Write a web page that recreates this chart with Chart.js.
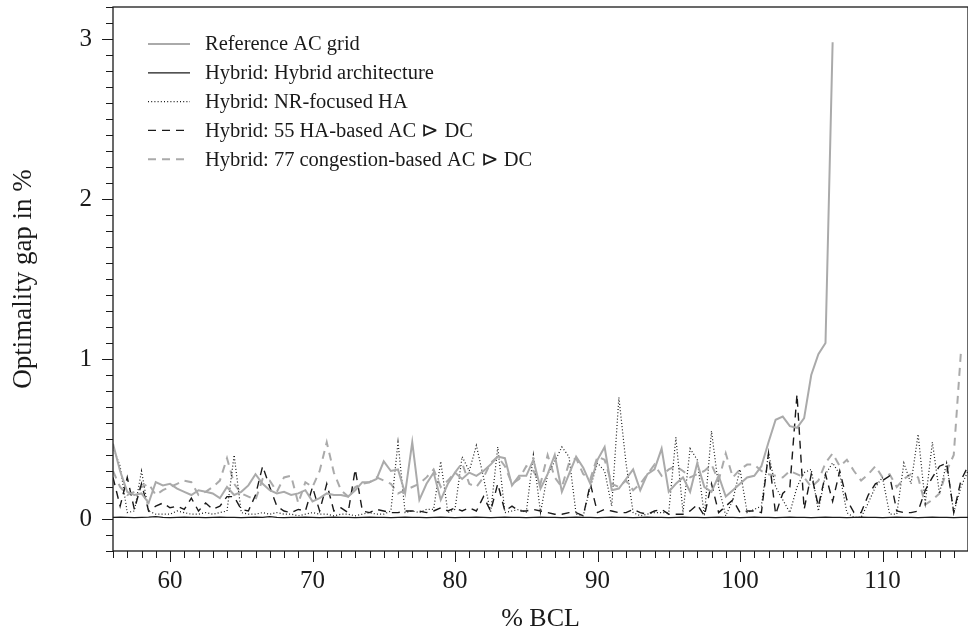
<!DOCTYPE html>
<html>
<head>
<meta charset="utf-8">
<script src="https://cdn.jsdelivr.net/npm/chart.js@4.4.1/dist/chart.umd.min.js"></script>
<style>
  body { margin: 0; background: #fff; }
  #wrap { width: 968px; height: 639px; position: relative; }
</style>
</head>
<body>
<div id="wrap"><canvas id="gap"></canvas></div>
<script>
// % BCL (x positions)
const bcl = [
  56,56.5,57,57.5,58,58.5,59,59.5,60,60.5,
  61,61.5,62,62.5,63,63.5,64,64.5,65,65.5,
  66,66.5,67,67.5,68,68.5,69,69.5,70,70.5,
  71,71.5,72,72.5,73,73.5,74,74.5,75,75.5,
  76,76.5,77,77.5,78,78.5,79,79.5,80,80.5,
  81,81.5,82,82.5,83,83.5,84,84.5,85,85.5,
  86,86.5,87,87.5,88,88.5,89,89.5,90,90.5,
  91,91.5,92,92.5,93,93.5,94,94.5,95,95.5,
  96,96.5,97,97.5,98,98.5,99,99.5,100,100.5,
  101,101.5,102,102.5,103,103.5,104,104.5,105,105.5,
  106,106.5,107,107.5,108,108.5,109,109.5,110,110.5,
  111,111.5,112,112.5,113,113.5,114,114.5,115,115.5,
  116
];

// labelled ticks
const xTicks = [60, 70, 80, 90, 100, 110];
const yTicks = [0, 1, 2, 3];

// optimality gap in %
const refAC = [
  0.47,0.30,0.17,0.15,0.16,0.10,0.23,0.21,0.22,0.19,
  0.17,0.15,0.18,0.17,0.16,0.13,0.20,0.15,0.17,0.21,
  0.28,0.22,0.18,0.16,0.17,0.15,0.16,0.18,0.11,0.13,
  0.16,0.15,0.15,0.14,0.18,0.23,0.23,0.25,0.36,0.30,
  0.31,0.16,0.48,0.12,0.22,0.29,0.12,0.22,0.29,0.25,
  0.29,0.27,0.30,0.34,0.39,0.38,0.21,0.27,0.27,0.37,
  0.19,0.28,0.40,0.17,0.28,0.39,0.32,0.22,0.37,0.45,
  0.18,0.19,0.25,0.31,0.18,0.28,0.31,0.44,0.17,0.22,
  0.26,0.17,0.35,0.20,0.17,0.27,0.14,0.18,0.22,0.26,
  0.27,0.33,0.48,0.62,0.64,0.58,0.57,0.63,0.90,1.03,
  1.10,2.98,null,null,null,null,null,null,null,null,
  null,null,null,null,null,null,null,null,null,null,
  null
];

const hybridArch = [
  0.010,0.012,0.010,0.008,0.010,0.012,0.015,0.010,0.008,0.010,
  0.012,0.010,0.010,0.008,0.010,0.012,0.010,0.010,0.008,0.010,
  0.012,0.010,0.015,0.010,0.008,0.010,0.010,0.012,0.010,0.008,
  0.010,0.012,0.010,0.010,0.008,0.010,0.012,0.010,0.010,0.008,
  0.010,0.012,0.010,0.010,0.008,0.010,0.012,0.010,0.008,0.010,
  0.010,0.012,0.010,0.008,0.010,0.012,0.010,0.010,0.008,0.010,
  0.012,0.010,0.010,0.008,0.010,0.012,0.010,0.010,0.008,0.010,
  0.012,0.010,0.010,0.008,0.010,0.012,0.010,0.010,0.008,0.010,
  0.012,0.010,0.010,0.008,0.010,0.012,0.010,0.010,0.008,0.010,
  0.012,0.010,0.010,0.008,0.010,0.012,0.010,0.010,0.008,0.010,
  0.012,0.010,0.010,0.008,0.010,0.012,0.010,0.010,0.008,0.010,
  0.012,0.010,0.010,0.008,0.010,0.012,0.010,0.010,0.008,0.010,
  0.010
];

const nrFocused = [
  0.45,0.33,0.04,0.05,0.30,0.05,0.03,0.03,0.03,0.05,
  0.04,0.03,0.03,0.04,0.03,0.04,0.05,0.40,0.04,0.03,
  0.03,0.04,0.03,0.04,0.03,0.03,0.02,0.03,0.04,0.03,
  0.03,0.02,0.03,0.03,0.02,0.03,0.04,0.03,0.03,0.05,
  0.48,0.04,0.05,0.04,0.06,0.06,0.36,0.04,0.06,0.39,
  0.30,0.46,0.26,0.04,0.45,0.04,0.05,0.06,0.04,0.40,
  0.04,0.28,0.36,0.45,0.39,0.03,0.02,0.20,0.35,0.30,
  0.08,0.76,0.35,0.04,0.02,0.03,0.04,0.04,0.04,0.51,
  0.04,0.44,0.37,0.02,0.55,0.20,0.02,0.12,0.31,0.04,
  0.06,0.08,0.41,0.20,0.12,0.04,0.20,0.29,0.31,0.05,
  0.28,0.35,0.28,0.04,0.01,0.01,0.10,0.20,0.26,0.03,
  0.03,0.35,0.22,0.53,0.10,0.48,0.16,0.35,0.04,0.20,
  0.30
];

const haBased55 = [
  0.26,0.08,0.26,0.06,0.22,0.05,0.08,0.10,0.07,0.08,
  0.06,0.13,0.05,0.10,0.06,0.08,0.14,0.14,0.06,0.05,
  0.15,0.33,0.20,0.08,0.05,0.04,0.06,0.05,0.20,0.05,
  0.22,0.05,0.07,0.04,0.31,0.05,0.04,0.06,0.05,0.04,
  0.04,0.05,0.05,0.05,0.04,0.05,0.07,0.05,0.07,0.05,
  0.07,0.05,0.14,0.05,0.22,0.05,0.08,0.05,0.05,0.06,
  0.05,0.04,0.03,0.03,0.04,0.04,0.02,0.22,0.04,0.06,
  0.05,0.04,0.04,0.06,0.04,0.03,0.05,0.06,0.03,0.03,
  0.03,0.05,0.09,0.02,0.22,0.04,0.08,0.12,0.04,0.05,
  0.05,0.04,0.41,0.03,0.16,0.20,0.78,0.06,0.28,0.08,
  0.28,0.11,0.30,0.12,0.04,0.04,0.15,0.22,0.24,0.27,
  0.05,0.04,0.04,0.05,0.18,0.26,0.33,0.35,0.04,0.24,
  0.33
];

const congestion77 = [
  0.30,0.20,0.15,0.17,0.20,0.22,0.15,0.18,0.20,0.22,
  0.24,0.23,0.15,0.17,0.20,0.24,0.38,0.22,0.16,0.14,
  0.12,0.25,0.24,0.17,0.26,0.27,0.10,0.23,0.20,0.30,
  0.48,0.29,0.18,0.14,0.20,0.22,0.23,0.26,0.24,0.22,
  0.16,0.18,0.20,0.22,0.26,0.31,0.20,0.24,0.29,0.35,
  0.22,0.20,0.26,0.35,0.39,0.33,0.22,0.25,0.33,0.30,
  0.22,0.40,0.26,0.20,0.35,0.38,0.28,0.25,0.39,0.37,
  0.22,0.20,0.24,0.18,0.22,0.28,0.34,0.27,0.31,0.33,
  0.30,0.26,0.28,0.30,0.34,0.24,0.41,0.26,0.31,0.34,
  0.34,0.30,0.28,0.27,0.26,0.30,0.28,0.26,0.20,0.24,
  0.35,0.41,0.33,0.37,0.30,0.24,0.28,0.33,0.26,0.28,
  0.20,0.25,0.28,0.26,0.09,0.12,0.16,0.30,0.40,1.04,
  null
];

const seriesNames = [
  'Reference AC grid',
  'Hybrid: Hybrid architecture',
  'Hybrid: NR-focused HA',
  'Hybrid: 55 HA-based AC \u22B3 DC',
  'Hybrid: 77 congestion-based AC \u22B3 DC'
];

const serif = "'Liberation Serif', 'DejaVu Serif', serif";
const gray = '#aaaaaa';
const ink = '#1a1a1a';

const toPoints = (vals) => bcl.map((x, i) => ({ x, y: vals[i] }));

const line = (label, vals, color, width, dash) => ({
  label,
  data: toPoints(vals),
  borderColor: color,
  borderWidth: width,
  borderDash: dash,
  pointRadius: 0,
  tension: 0,
  fill: false,
  spanGaps: false,
});

// axis frame, minor/major ticks and the in-plot legend
const framePlugin = {
  id: 'frame',
  afterDraw(chart) {
    const { ctx, chartArea: a, scales: { x, y } } = chart;
    ctx.save();
    ctx.strokeStyle = ink;
    ctx.lineWidth = 1.3;
    ctx.strokeRect(a.left, a.top, a.right - a.left, a.bottom - a.top);

    ctx.lineWidth = 1;
    ctx.beginPath();
    for (let v = Math.ceil(x.min); v <= x.max; v++) {
      const p = Math.round(x.getPixelForValue(v)) + 0.5;
      const len = v % 10 === 0 ? 11 : 7;
      ctx.moveTo(p, a.bottom);
      ctx.lineTo(p, a.bottom + len);
    }
    for (let k = Math.ceil(y.min * 10); k <= Math.floor(y.max * 10); k++) {
      const p = Math.round(y.getPixelForValue(k / 10)) + 0.5;
      const len = k % 10 === 0 ? 11 : 7;
      ctx.moveTo(a.left, p);
      ctx.lineTo(a.left - len, p);
    }
    ctx.stroke();

    // legend
    ctx.font = '20.5px ' + serif;
    ctx.textBaseline = 'middle';
    ctx.textAlign = 'left';
    chart.data.datasets.forEach((ds, i) => {
      const yy = a.top + 37 + i * 28.8;
      ctx.beginPath();
      ctx.strokeStyle = ds.borderColor;
      ctx.lineWidth = ds.borderWidth;
      ctx.setLineDash(ds.borderDash || []);
      ctx.moveTo(148, yy);
      ctx.lineTo(190, yy);
      ctx.stroke();
      ctx.setLineDash([]);
      ctx.fillStyle = ink;
      ctx.fillText(ds.label, 205, yy + 1);
    });
    ctx.restore();
  }
};

new Chart(document.getElementById('gap'), {
  type: 'line',
  data: {
    datasets: [
      line(seriesNames[0], refAC, gray, 2, []),
      line(seriesNames[1], hybridArch, ink, 1.3, []),
      line(seriesNames[2], nrFocused, ink, 1.2, [1, 2.2]),
      line(seriesNames[3], haBased55, ink, 1.4, [8, 6]),
      line(seriesNames[4], congestion77, gray, 2, [8, 6]),
    ]
  },
  options: {
    responsive: true,
    maintainAspectRatio: false,
    animation: false,
    layout: { padding: { top: 7, right: 0, left: 0, bottom: 0 } },
    plugins: {
      legend: { display: false },
      tooltip: { enabled: false },
    },
    scales: {
      x: {
        type: 'linear',
        min: 56,
        max: 116,
        afterBuildTicks(s) { s.ticks = xTicks.map((value) => ({ value })); },
        afterFit(s) { s.height = 88; s.paddingLeft = 0; s.paddingRight = 0; },
        border: { display: false },
        grid: { drawOnChartArea: false, drawTicks: true, tickLength: 11, color: 'rgba(0,0,0,0)' },
        ticks: {
          padding: 4,
          color: ink,
          font: { family: serif, size: 25 },
        },
        title: {
          display: true,
          text: '% BCL',
          color: ink,
          font: { family: serif, size: 26 },
          padding: { top: 0, bottom: 4 },
        },
      },
      y: {
        min: -0.2,
        max: 3.2,
        afterBuildTicks(s) { s.ticks = yTicks.map((value) => ({ value })); },
        afterFit(s) { s.width = 113; s.paddingTop = 0; s.paddingBottom = 0; },
        border: { display: false },
        grid: { drawOnChartArea: false, drawTicks: true, tickLength: 11, color: 'rgba(0,0,0,0)' },
        ticks: {
          padding: 10,
          color: ink,
          font: { family: serif, size: 25 },
        },
        title: {
          display: true,
          text: 'Optimality gap in %',
          color: ink,
          font: { family: serif, size: 27 },
          padding: { top: 8, bottom: 0 },
        },
      },
    },
  },
  plugins: [framePlugin],
});
</script>
</body>
</html>
